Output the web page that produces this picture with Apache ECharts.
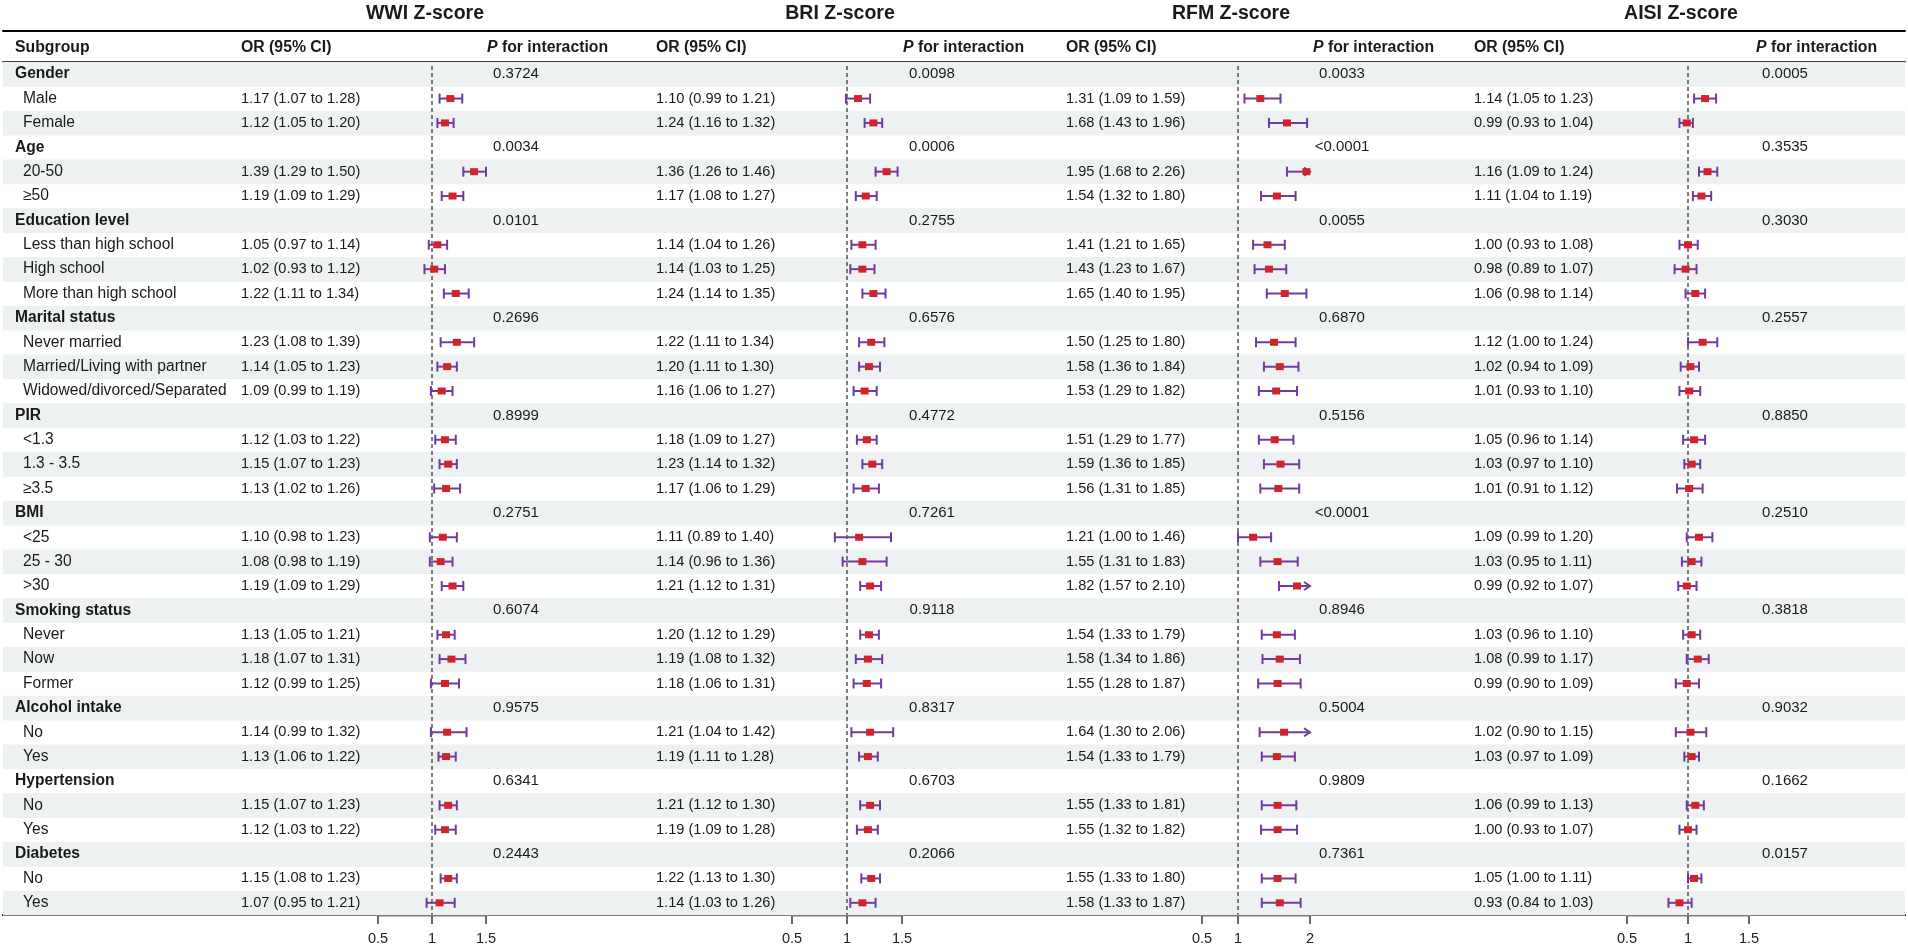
<!DOCTYPE html>
<html><head><meta charset="utf-8">
<script src="https://cdn.jsdelivr.net/npm/echarts@6/dist/echarts.min.js"></script>
<style>html,body{margin:0;padding:0;background:#fff;}#c{width:1908px;height:946px;}</style>
</head><body><div id="c"></div>
<script>
// ---------- DATA ----------
const subgroups = ["Gender","Male","Female","Age","20-50","≥50","Education level","Less than high school","High school","More than high school","Marital status","Never married","Married/Living with partner","Widowed/divorced/Separated","PIR","<1.3","1.3 - 3.5","≥3.5","BMI","<25","25 - 30",">30","Smoking status","Never","Now","Former","Alcohol intake","No","Yes","Hypertension","No","Yes","Diabetes","No","Yes"];
const isGroup = [1,0,0,1,0,0,1,0,0,0,1,0,0,0,1,0,0,0,1,0,0,0,1,0,0,0,1,0,0,1,0,0,1,0,0];

const wwiOR = [null,1.17,1.12,null,1.39,1.19,null,1.05,1.02,1.22,null,1.23,1.14,1.09,null,1.12,1.15,1.13,null,1.10,1.08,1.19,null,1.13,1.18,1.12,null,1.14,1.13,null,1.15,1.12,null,1.15,1.07];
const wwiLo = [null,1.07,1.05,null,1.29,1.09,null,0.97,0.93,1.11,null,1.08,1.05,0.99,null,1.03,1.07,1.02,null,0.98,0.98,1.09,null,1.05,1.07,0.99,null,0.99,1.06,null,1.07,1.03,null,1.08,0.95];
const wwiHi = [null,1.28,1.20,null,1.50,1.29,null,1.14,1.12,1.34,null,1.39,1.23,1.19,null,1.22,1.23,1.26,null,1.23,1.19,1.29,null,1.21,1.31,1.25,null,1.32,1.22,null,1.23,1.22,null,1.23,1.21];
const wwiP = ["0.3724","0.0034","0.0101","0.2696","0.8999","0.2751","0.6074","0.9575","0.6341","0.2443"];

const briOR = [null,1.10,1.24,null,1.36,1.17,null,1.14,1.14,1.24,null,1.22,1.20,1.16,null,1.18,1.23,1.17,null,1.11,1.14,1.21,null,1.20,1.19,1.18,null,1.21,1.19,null,1.21,1.19,null,1.22,1.14];
const briLo = [null,0.99,1.16,null,1.26,1.08,null,1.04,1.03,1.14,null,1.11,1.11,1.06,null,1.09,1.14,1.06,null,0.89,0.96,1.12,null,1.12,1.08,1.06,null,1.04,1.11,null,1.12,1.09,null,1.13,1.03];
const briHi = [null,1.21,1.32,null,1.46,1.27,null,1.26,1.25,1.35,null,1.34,1.30,1.27,null,1.27,1.32,1.29,null,1.40,1.36,1.31,null,1.29,1.32,1.31,null,1.42,1.28,null,1.30,1.28,null,1.30,1.26];
const briP = ["0.0098","0.0006","0.2755","0.6576","0.4772","0.7261","0.9118","0.8317","0.6703","0.2066"];

const rfmOR = [null,1.31,1.68,null,1.95,1.54,null,1.41,1.43,1.65,null,1.50,1.58,1.53,null,1.51,1.59,1.56,null,1.21,1.55,1.82,null,1.54,1.58,1.55,null,1.64,1.54,null,1.55,1.55,null,1.55,1.58];
const rfmLo = [null,1.09,1.43,null,1.68,1.32,null,1.21,1.23,1.40,null,1.25,1.36,1.29,null,1.29,1.36,1.31,null,1.00,1.31,1.57,null,1.33,1.34,1.28,null,1.30,1.33,null,1.33,1.32,null,1.33,1.33];
const rfmHi = [null,1.59,1.96,null,2.26,1.80,null,1.65,1.67,1.95,null,1.80,1.84,1.82,null,1.77,1.85,1.85,null,1.46,1.83,2.10,null,1.79,1.86,1.87,null,2.06,1.79,null,1.81,1.82,null,1.80,1.87];
const rfmP = ["0.0033","<0.0001","0.0055","0.6870","0.5156","<0.0001","0.8946","0.5004","0.9809","0.7361"];

const aisiOR = [null,1.14,0.99,null,1.16,1.11,null,1.00,0.98,1.06,null,1.12,1.02,1.01,null,1.05,1.03,1.01,null,1.09,1.03,0.99,null,1.03,1.08,0.99,null,1.02,1.03,null,1.06,1.00,null,1.05,0.93];
const aisiLo = [null,1.05,0.93,null,1.09,1.04,null,0.93,0.89,0.98,null,1.00,0.94,0.93,null,0.96,0.97,0.91,null,0.99,0.95,0.92,null,0.96,0.99,0.90,null,0.90,0.97,null,0.99,0.93,null,1.00,0.84];
const aisiHi = [null,1.23,1.04,null,1.24,1.19,null,1.08,1.07,1.14,null,1.24,1.09,1.10,null,1.14,1.10,1.12,null,1.20,1.11,1.07,null,1.10,1.17,1.09,null,1.15,1.09,null,1.13,1.07,null,1.11,1.03];
const aisiP = ["0.0005","0.3535","0.3030","0.2557","0.8850","0.2510","0.3818","0.9032","0.1662","0.0157"];

const panelTitles = ["WWI Z-score","BRI Z-score","RFM Z-score","AISI Z-score"];
const wwiTicks = [0.5,1,1.5];
const briTicks = [0.5,1,1.5];
const rfmTicks = [0.5,1,2];
const aisiTicks = [0.5,1,1.5];
const refValue = 1;

// ---------- LAYOUT / STYLE ----------
const FONT = '"Liberation Sans", Arial, Helvetica, sans-serif';
const TXT = '#1a1a1a';
const STRIPE = '#eef1f1';
const CI_COLOR = '#6f3c9e';
const BOX_COLOR = '#d2222a';
const TOP = 62, H = 853;
const N = subgroups.length;

const panels = [
  {title:panelTitles[0], or:wwiOR, lo:wwiLo, hi:wwiHi, p:wwiP, ticks:wwiTicks, min:0.5, max:1.5, left:378, width:108, orX:241, pX:516},
  {title:panelTitles[1], or:briOR, lo:briLo, hi:briHi, p:briP, ticks:briTicks, min:0.5, max:1.5, left:792, width:110, orX:656, pX:932},
  {title:panelTitles[2], or:rfmOR, lo:rfmLo, hi:rfmHi, p:rfmP, ticks:rfmTicks, min:0.5, max:2.0, left:1202, width:108, orX:1066, pX:1342},
  {title:panelTitles[3], or:aisiOR, lo:aisiLo, hi:aisiHi, p:aisiP, ticks:aisiTicks, min:0.5, max:1.5, left:1627, width:122, orX:1474, pX:1785}
];

const fmt = v => v.toFixed(2);

const groupRows = [];
isGroup.forEach((g,i)=>{ if(g) groupRows.push(i); });

const ruleAxis = (pos, width, offset) => ({gridIndex:0, type:'value', min:0, max:1, position:pos, offset:offset||0,
  axisLine:{show:true, onZero:false, lineStyle:{color:'#000', width:width}},
  axisTick:{show:false}, axisLabel:{show:false}, splitLine:{show:false}});

const grids = [{left:3, width:1902, top:TOP, height:H}];
const xAxes = [ruleAxis('bottom', 2), ruleAxis('top', 1.6), ruleAxis('top', 2, 31)];
const yAxes = [{gridIndex:0, type:'value', min:-0.5, max:N-0.5, inverse:true, show:false}];
const series = [];
const TABLE_X = 0, TABLE_Y = 0;

// stripes
series.push({
  type:'custom', xAxisIndex:TABLE_X, yAxisIndex:TABLE_Y, silent:true, z:1,
  data: subgroups.map((s,i)=>[0.5,i]).filter((d,i)=>i%2===0),
  encode:{x:0, y:1},
  renderItem(params, api){
    const i = api.value(1);
    const c = api.coord([0, i]);
    const h = api.size([0,1])[1];
    const cs = params.coordSys;
    return {type:'rect', shape:{x:cs.x, y:c[1]-h/2, width:cs.width, height:h+0.5}, style:{fill:STRIPE}};
  }
});

// subgroup labels
series.push({
  type:'custom', xAxisIndex:TABLE_X, yAxisIndex:TABLE_Y, silent:true, z:5,
  data: subgroups.map((s,i)=>[0,i]),
  encode:{x:0, y:1},
  renderItem(params, api){
    const i = api.value(1);
    const y = api.coord([0, i])[1];
    const g = isGroup[i];
    return {type:'text', x: g ? 15 : 23, y: y,
      style:{text: subgroups[i], fontSize:15.6, fontFamily:FONT, fontWeight: g ? 'bold':'normal', fill:TXT, align:'left', verticalAlign:'middle'}};
  }
});

panels.forEach((p, k)=>{
  const gi = k+1;
  const xi = xAxes.length;
  const yi = yAxes.length;
  grids.push({left:p.left, width:p.width, top:TOP, height:H});
  const isRegular = p.ticks.every((t,j)=> j===0 || Math.abs(t - p.ticks[j-1] - 0.5) < 1e-9);
  const tickOpt = {show:true, inside:false, length:9, lineStyle:{color:'#444', width:1.6}};
  const labelOpt = {show:true, fontSize:14.5, fontFamily:FONT, color:'#222', margin:16,
      formatter: v => (p.ticks.indexOf(v) >= 0 ? String(v) : '')};
  if (!isRegular) { tickOpt.customValues = p.ticks; labelOpt.customValues = p.ticks; }
  xAxes.push({gridIndex:gi, type:'value', position:'bottom', min:p.min, max:p.max, interval:0.5,
    axisLine:{show:true, onZero:false, lineStyle:{color:'#000', width:2.4}},
    axisTick:tickOpt,
    axisLabel:labelOpt,
    splitLine:{show:false}});
  yAxes.push({gridIndex:gi, type:'value', min:-0.5, max:N-0.5, inverse:true, show:false});

  // OR text column + P values (on the table grid)
  series.push({
    type:'custom', xAxisIndex:TABLE_X, yAxisIndex:TABLE_Y, silent:true, z:5,
    data: subgroups.map((s,i)=>[0,i]),
    encode:{x:0, y:1},
    renderItem(params, api){
      const i = api.value(1);
      const y = api.coord([0, i])[1];
      if (isGroup[i]) {
        const pv = p.p[groupRows.indexOf(i)];
        return {type:'text', x:p.pX, y:y, style:{text:pv, fontSize:15, fontFamily:FONT, fill:TXT, align:'center', verticalAlign:'middle'}};
      }
      const t = fmt(p.or[i]) + ' (' + fmt(p.lo[i]) + ' to ' + fmt(p.hi[i]) + ')';
      return {type:'text', x:p.orX, y:y, style:{text:t, fontSize:14.6, fontFamily:FONT, fill:TXT, align:'left', verticalAlign:'middle'}};
    }
  });

  // reference dashed line at OR = 1
  series.push({
    type:'custom', xAxisIndex:xi, yAxisIndex:yi, silent:true, z:3, clip:false,
    data:[[refValue, 0]],
    encode:{x:0, y:1},
    renderItem(params, api){
      const x = api.coord([api.value(0), 0])[0];
      const cs = params.coordSys;
      return {type:'line', shape:{x1:x, y1:cs.y+4, x2:x, y2:cs.y+cs.height}, style:{stroke:'#3a3a3a', lineWidth:1.3, lineDash:[4,3]}};
    }
  });

  // CI whiskers + point estimates
  const ciData = [];
  p.or.forEach((v,i)=>{ if (v !== null) ciData.push([v, p.lo[i], p.hi[i], i]); });
  series.push({
    type:'custom', xAxisIndex:xi, yAxisIndex:yi, silent:true, z:4, clip:false,
    data: ciData,
    encode:{x:[0,1,2], y:3},
    renderItem(params, api){
      const or = api.value(0), lo = api.value(1), hi = api.value(2), i = api.value(3);
      const clipped = hi > p.max;
      const c = api.coord([or, i]);
      const y = c[1], xOr = c[0];
      const xLo = api.coord([Math.max(lo, p.min), i])[0];
      const xHi = api.coord([Math.min(hi, p.max), i])[0];
      const st = {stroke:CI_COLOR, lineWidth:2, fill:null};
      const children = [
        {type:'line', shape:{x1:xLo, y1:y, x2:xHi, y2:y}, style:st},
        {type:'line', shape:{x1:xLo, y1:y-5, x2:xLo, y2:y+5}, style:st}
      ];
      if (clipped) {
        children.push({type:'polyline', shape:{points:[[xHi-6,y-4],[xHi,y],[xHi-6,y+4]]}, style:st});
      } else {
        children.push({type:'line', shape:{x1:xHi, y1:y-5, x2:xHi, y2:y+5}, style:st});
      }
      children.push({type:'rect', shape:{x:xOr-4, y:y-3.5, width:8, height:7}, style:{fill:BOX_COLOR}});
      return {type:'group', children};
    }
  });
});

// ---------- headers & titles ----------
const graphics = [];
const HEAD_Y = 48;
graphics.push({type:'text', x:15, y:HEAD_Y, style:{text:'Subgroup', fontSize:15.8, fontWeight:'bold', fontFamily:FONT, fill:TXT, align:'left', verticalAlign:'middle'}});
panels.forEach(p=>{
  const xRef = p.left + (refValue - p.min)/(p.max - p.min)*p.width;
  graphics.push({type:'text', x:xRef-7, y:14, style:{text:p.title, fontSize:19.5, fontWeight:'bold', fontFamily:FONT, fill:TXT, align:'center', verticalAlign:'middle'}});
  graphics.push({type:'text', x:p.orX, y:HEAD_Y, style:{text:'OR (95% CI)', fontSize:15.8, fontWeight:'bold', fontFamily:FONT, fill:TXT, align:'left', verticalAlign:'middle'}});
  graphics.push({type:'text', x:p.pX-29, y:HEAD_Y, style:{text:'{i|P} for interaction', fontSize:15.8, fontWeight:'bold', fontFamily:FONT, fill:TXT, align:'left', verticalAlign:'middle',
    rich:{i:{fontStyle:'italic', fontWeight:'bold', fontSize:15.8, fontFamily:FONT, fill:TXT}}}});
});

const chart = echarts.init(document.getElementById('c'));
chart.setOption({
  animation:false,
  backgroundColor:'#ffffff',
  grid: grids,
  xAxis: xAxes,
  yAxis: yAxes,
  series: series,
  graphic: graphics
});
</script>
</body></html>
